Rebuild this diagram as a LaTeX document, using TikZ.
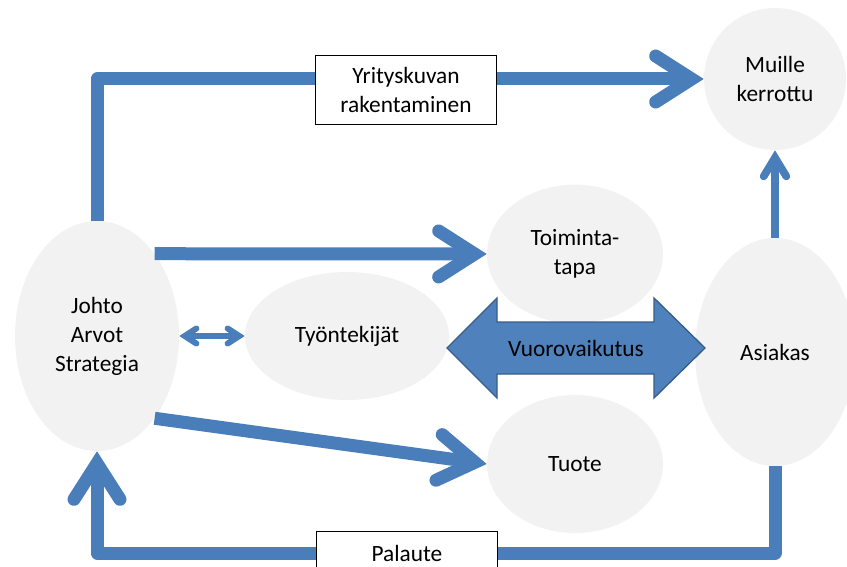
\documentclass[tikz,border=0pt]{standalone}
\usepackage{fontspec}
\setmainfont{Carlito}
\usetikzlibrary{arrows.meta,shapes.geometric}
\definecolor{flowblue}{HTML}{4A7EBB}
\definecolor{bubblegray}{HTML}{F2F2F2}
\definecolor{blockfill}{HTML}{4F81BD}
\definecolor{blockline}{HTML}{385D8A}
\begin{document}
\begin{tikzpicture}[x=0.75pt,y=-0.75pt,
  every node/.style={font=\fontsize{17.5pt}{21.75pt}\selectfont, text=black},
  bubble/.style={ellipse, fill=bubblegray, inner sep=0pt, align=center},
  labelbox/.style={rectangle, draw=black, line width=0.75pt, fill=white,
    minimum width=135.75pt, minimum height=51.75pt, align=center, inner sep=0pt},
  bighead/.style={-{Straight Barb[length=27pt,width=34.5pt,line cap=round,line join=miter]}},
  mainflow/.style={draw=flowblue, line width=9.75pt, line join=round, bighead},
  smallflow/.style={draw=flowblue, line width=5.8pt,
    -{Straight Barb[length=14pt,width=17pt,line cap=round,line join=miter]}},
  tinyflow/.style={draw=flowblue, line width=4.5pt,
    {Straight Barb[length=8.7pt,width=11.3pt,line cap=round,line join=miter]}-{Straight Barb[length=8.7pt,width=11.3pt,line cap=round,line join=miter]}}
]
\useasboundingbox (0,0) rectangle (847,567);

% bubbles
\node[bubble, minimum width=123pt, minimum height=172.5pt] (johto) at (97,336) {Johto\\Arvot\\Strategia};
\node[bubble, minimum width=153pt, minimum height=96pt] (tyon) at (347,336) {Työntekijät};
\node[bubble, minimum width=132pt, minimum height=104pt] (toiminta) at (575,254) {Toiminta-\\tapa};
\node[bubble, minimum width=132pt, minimum height=103.5pt] (tuote) at (575,464) {Tuote};
\node[bubble, minimum width=120pt, minimum height=171pt] (asiakas) at (775,352) {Asiakas};
\node[circle, fill=bubblegray, inner sep=0pt, minimum size=106.5pt, align=center] (muille) at (775,79) {Muille\\kerrottu};

% flows
\draw[mainflow] (johto.north) |- (muille.west);
\draw[mainflow] (asiakas.south) -- (asiakas.south |- 0,553) -| (johto.south);
\draw[mainflow] (johto.55) -- (toiminta.west);
\draw[mainflow] (johto.-55) -- (tuote.west);
\draw[smallflow] (asiakas.north) -- (muille.south);
\draw[tinyflow] (johto.east) -- (tyon.west);

% interaction block arrow
\draw[fill=blockfill, draw=blockline, line width=1pt, line join=miter]
  (447,348) -- (497,298) -- (497,322) -- (654,322) -- (654,298) -- (705,348)
  -- (654,398) -- (654,374) -- (497,374) -- (497,398) -- cycle;
\node (vuoro) at (576,348) {Vuorovaikutus};

% flow labels
\node[labelbox] (kuva) at (406,90) {Yrityskuvan\\rakentaminen};
\node[labelbox, minimum height=33pt] (palaute) at (407,553) {Palaute};
\end{tikzpicture}
\end{document}
